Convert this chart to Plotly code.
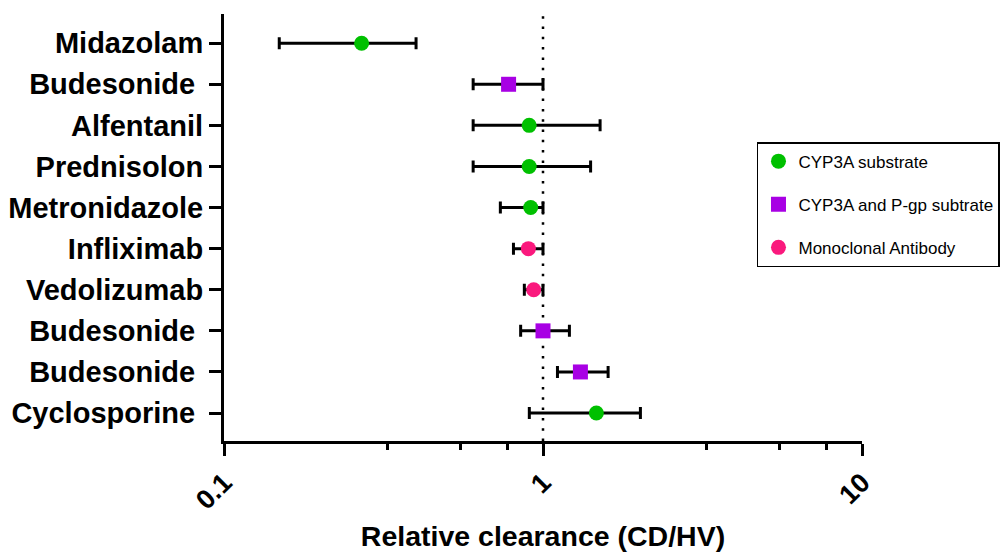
import plotly.graph_objects as go

# ---- data ----
drugs = ["Midazolam", "Budesonide\u00a0", "Alfentanil", "Prednisolon", "Metronidazole",
         "Infliximab", "Vedolizumab", "Budesonide\u00a0", "Budesonide\u00a0", "Cyclosporine\u00a0"]
groups = ["CYP3A substrate", "CYP3A and P-gp subtrate", "CYP3A substrate", "CYP3A substrate",
          "CYP3A substrate", "Monoclonal Antibody", "Monoclonal Antibody",
          "CYP3A and P-gp subtrate", "CYP3A and P-gp subtrate", "CYP3A substrate"]
ratio = [0.27, 0.78, 0.905, 0.905, 0.915, 0.90, 0.935, 1.00, 1.31, 1.47]
lower = [0.149, 0.604, 0.604, 0.604, 0.735, 0.808, 0.874, 0.851, 1.11, 0.906]
upper = [0.400, 1.00, 1.51, 1.41, 1.00, 1.00, 1.00, 1.21, 1.60, 2.02]

x_ticks = [0.1, 1, 10]
x_ticktext = ["0.1", "1", "10"]
minor_ticks = [0.325, 0.55, 0.775, 3.25, 5.5, 7.75]
ref_value = 1

group_order = ["CYP3A substrate", "CYP3A and P-gp subtrate", "Monoclonal Antibody"]
group_color = {"CYP3A substrate": "rgb(0,192,0)",
               "CYP3A and P-gp subtrate": "rgb(168,0,228)",
               "Monoclonal Antibody": "rgb(250,25,125)"}
group_symbol = {"CYP3A substrate": "circle",
                "CYP3A and P-gp subtrate": "square",
                "Monoclonal Antibody": "circle"}

y_pos = list(range(len(drugs)))
y_range = [len(drugs) - 1 + 0.68, -0.71]

FONT = "Liberation Sans, Arial, sans-serif"

fig = go.Figure()

# dotted reference line at 1
fig.add_trace(go.Scatter(
    x=[ref_value, ref_value], y=[y_range[0], y_range[1]], mode="lines",
    line=dict(color="black", width=2.5, dash="2.5px,7.8px"),
    showlegend=False, hoverinfo="skip"))

for g in group_order:
    idx = [i for i, gg in enumerate(groups) if gg == g]
    fig.add_trace(go.Scatter(
        x=[ratio[i] for i in idx],
        y=[y_pos[i] for i in idx],
        mode="markers",
        name=g,
        legendgroup=g,
        marker=dict(symbol=group_symbol[g], size=15, color=group_color[g], line=dict(width=0)),
        error_x=dict(type="data", symmetric=False,
                     array=[upper[i] - ratio[i] for i in idx],
                     arrayminus=[ratio[i] - lower[i] for i in idx],
                     color="black", thickness=3, width=6),
    ))

fig.update_layout(
    width=1003, height=552,
    margin=dict(l=224, r=141, t=14, b=111, autoexpand=False),
    paper_bgcolor="white", plot_bgcolor="white",
    font=dict(family=FONT, color="black"),
    showlegend=True,
    legend=dict(x=0.8354, y=0.70, xanchor="left", yanchor="top",
                bordercolor="black", borderwidth=1.5, bgcolor="white",
                font=dict(family=FONT, size=17, color="black"),
                tracegroupgap=18, itemsizing="trace"),
    xaxis=dict(type="log", range=[-1, 1], tickmode="array", tickvals=x_ticks, ticktext=x_ticktext,
               ticks="outside", ticklen=12, tickwidth=3, tickcolor="black",
               showline=True, linewidth=3, linecolor="black",
               showgrid=False, zeroline=False, tickangle=-45,
               tickfont=dict(family=FONT, size=27, weight="bold"),
               minor=dict(tickmode="array", tickvals=minor_ticks, ticks="outside",
                          ticklen=6, tickwidth=2.5, tickcolor="black", showgrid=False),
               title=dict(text="Relative clearance (CD/HV)", standoff=12,
                          font=dict(family=FONT, size=28.5, weight="bold"))),
    yaxis=dict(range=y_range, tickmode="array", tickvals=y_pos, ticktext=drugs,
               ticks="outside", ticklen=12, tickwidth=3, tickcolor="black",
               showline=True, linewidth=3, linecolor="black",
               showgrid=False, zeroline=False,
               tickfont=dict(family=FONT, size=29, weight="bold")),
)

fig.write_html("out.html")
